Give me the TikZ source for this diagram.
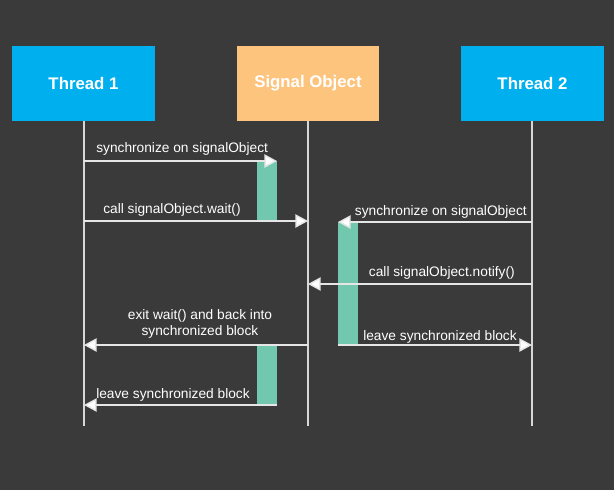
\documentclass[tikz,border=0pt]{standalone}
\usepackage{fontspec}
\setmainfont{Liberation Sans}
\usetikzlibrary{arrows.meta}
\definecolor{bgdark}{HTML}{3A3A3A}
\definecolor{threadblue}{HTML}{00B0EE}
\definecolor{objorange}{HTML}{FDC47E}
\definecolor{actgreen}{HTML}{72C8AE}
\definecolor{msgline}{HTML}{E6E6E6}
\tikzstyle{thread}=[rectangle,fill=threadblue,minimum width=107pt,minimum height=56pt,inner sep=0pt,text=white,font=\fontsize{12.6}{14}\selectfont\bfseries]
\tikzstyle{object}=[thread,fill=objorange]
\tikzstyle{lifeline}=[draw=msgline!85!gray,line width=1.1pt]
\tikzstyle{msg}=[draw=msgline,line width=1.1pt,-{Triangle[width=10pt,length=9.5pt,fill=white]}]
\tikzstyle{label}=[text=white,inner sep=0pt,font=\fontsize{10.3}{12}\selectfont,align=center]
\tikzstyle{bar}=[fill=actgreen]

\begin{document}
\begin{tikzpicture}[x=0.75pt,y=-0.75pt]
\fill[bgdark] (0,0) rectangle (614,490);
\useasboundingbox (0,0) rectangle (614,490);
% participants
\node[thread] (t1) at (83.5,83.5) {Thread 1};
\node[object] (obj) at (308,83.5) {Signal Object};
\node[thread] (t2) at (532.5,83.5) {Thread 2};
% lifelines
\coordinate (t1end) at (84,426);
\coordinate (objend) at (308,426);
\coordinate (t2end) at (532,426);
\draw[lifeline] (t1.south -| t1end) -- (t1end);
\draw[lifeline] (obj.south -| objend) -- (objend);
\draw[lifeline] (t2.south -| t2end) -- (t2end);
% activation bars
\fill[bar] (257,161) rectangle (277,220);
\fill[bar] (338,222) rectangle (358,345);
\fill[bar] (257,345) rectangle (277,405);
% message end points
\coordinate (a1) at (84,161);
\coordinate (b1) at (277,161);
\coordinate (a2) at (84,221);
\coordinate (b2) at (308,221);
\coordinate (a3) at (532,222);
\coordinate (b3) at (338,222);
\coordinate (a4) at (532,284);
\coordinate (b4) at (308,284);
\coordinate (a5) at (338,345);
\coordinate (b5) at (532,345);
\coordinate (a6) at (308,345);
\coordinate (b6) at (84,345);
\coordinate (a7) at (277,405);
\coordinate (b7) at (84,405);
% messages
\draw[msg] (a1) -- (b1);
\draw[msg] (a2) -- (b2);
\draw[msg] (a3) -- (b3);
\draw[msg] (a4) -- (b4);
\draw[msg] (a5) -- (b5);
\draw[msg] (a6) -- (b6);
\draw[msg] (a7) -- (b7);
% labels
\node[label,anchor=base west] (l1) at (96,152) {synchronize on signalObject};
\node[label,anchor=base west] (l2) at (103,213) {call signalObject.wait()};
\node[label,anchor=base east] (l3) at (527,215) {synchronize on signalObject};
\node[label,anchor=base east] (l4) at (515,276) {call signalObject.notify()};
\node[label,anchor=base west] (l5) at (363,340) {leave synchronized block};
\node[label,anchor=south] (l6) at (200,339) {exit wait() and back into\\synchronized block};
\node[label,anchor=base west] (l7) at (96,398) {leave synchronized block};
\end{tikzpicture}
\end{document}
